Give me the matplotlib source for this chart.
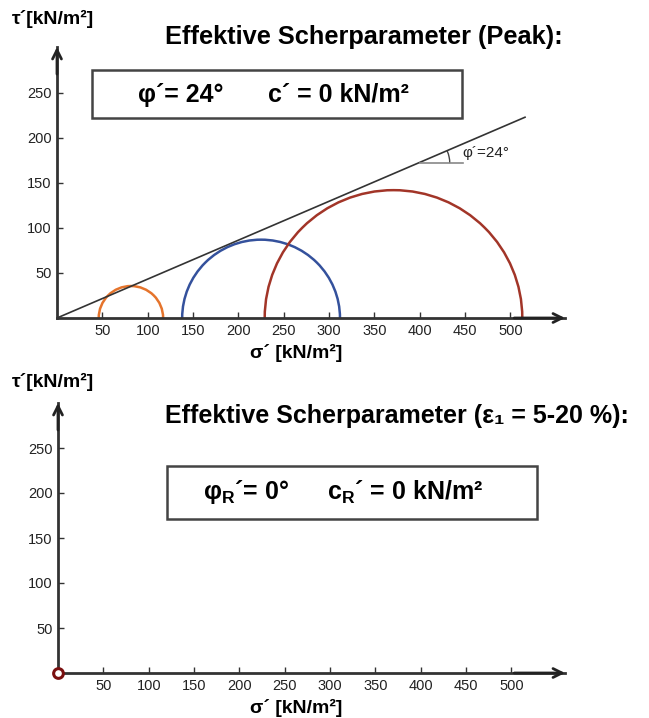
import numpy as np
import matplotlib
matplotlib.use("Agg")
import matplotlib.pyplot as plt
from matplotlib.patches import Arc, Rectangle

plt.rcParams['font.family'] = ['Liberation Sans', 'DejaVu Sans']
plt.rcParams['mathtext.fontset'] = 'custom'
plt.rcParams['mathtext.rm'] = 'Liberation Sans:bold'
plt.rcParams['mathtext.it'] = 'Liberation Sans:bold'
plt.rcParams['mathtext.bf'] = 'Liberation Sans:bold'

# ---- data ----
x_ticks = [50, 100, 150, 200, 250, 300, 350, 400, 450, 500]
y_ticks = [50, 100, 150, 200, 250]
circle_centers = [81.5, 225, 371]      # sigma' centre of Mohr circles (kN/m2)
circle_radii = [35.5, 87, 142]         # radius (kN/m2)
circle_colors = ['#E5742C', '#34519C', '#A23528']
envelope_sigma = [0, 516]
envelope_tau = [0, 223]
phi_peak = 24
angle_vertex = (400, 172)
residual_sigma = [0]
residual_tau = [0]

title_top = "Effektive Scherparameter (Peak):"
title_bot = "Effektive Scherparameter (ε₁ = 5-20 %):"

W, H = 649, 718
fig = plt.figure(figsize=(W / 100, H / 100), dpi=100)

def fx(px):
    return px / W

def fy(py):
    return 1 - py / H

axis_col = '#333333'


def make_axes(left, bottom_px, right_px, top_px, ymax):
    ax = fig.add_axes([fx(left), fy(bottom_px), fx(right_px) - fx(left), fy(top_px) - fy(bottom_px)])
    xmax = (right_px - left) / 0.907
    ax.set_xlim(0, xmax)
    ax.set_ylim(0, ymax)
    for s in ['top', 'right']:
        ax.spines[s].set_visible(False)
    for s in ['left', 'bottom']:
        ax.spines[s].set_linewidth(2.0)
        ax.spines[s].set_color(axis_col)
    ax.set_xticks(x_ticks)
    ax.set_yticks(y_ticks)
    ax.tick_params(direction='in', length=4, width=1.0, colors=axis_col,
                   labelsize=10.5, labelcolor='#222222', pad=4)
    ax.annotate('', xy=(1.0, 0), xytext=(0.9, 0), xycoords='axes fraction',
                arrowprops=dict(arrowstyle='->', lw=2.0, color='#222222',
                                mutation_scale=16, shrinkA=0, shrinkB=0),
                annotation_clip=False)
    ax.annotate('', xy=(0, 1.0), xytext=(0, 0.9), xycoords='axes fraction',
                arrowprops=dict(arrowstyle='->', lw=2.0, color='#222222',
                                mutation_scale=16, shrinkA=0, shrinkB=0),
                annotation_clip=False)
    ax.patch.set_alpha(0)
    return ax

# ---- top panel ----
ax1 = make_axes(57, 318, 565, 47, 301)
for c, r, col in zip(circle_centers, circle_radii, circle_colors):
    ax1.add_patch(Arc((c, 0), 2 * r, 2 * r, theta1=0, theta2=180, color=col, lw=1.8))
ax1.plot(envelope_sigma, envelope_tau, color='#333333', lw=1.2)
vx, vy = angle_vertex
ax1.plot([vx, vx + 48], [vy, vy], color='#888888', lw=1.2)
ax1.add_patch(Arc((vx, vy), 66, 67, theta1=0, theta2=phi_peak, color='#444444', lw=1.0))
ax1.text(vx + 47, vy + 11, f"φ´={phi_peak}°", fontsize=11, color='#222222', va='center')

# ---- bottom panel ----
ax2 = make_axes(58, 673, 565, 403, 300)
ax2.plot(residual_sigma, residual_tau, 'o', ms=7, mfc='white', mec='#7A1010', mew=2.2, clip_on=False, zorder=5)

# ---- texts ----
fig.text(fx(12), fy(19), "τ´[kN/m²]", fontsize=14, fontweight='bold', va='center', ha='left')
fig.text(fx(12), fy(382), "τ´[kN/m²]", fontsize=14, fontweight='bold', va='center', ha='left')
fig.text(fx(250), fy(353), "σ´ [kN/m²]", fontsize=14, fontweight='bold', va='center', ha='left')
fig.text(fx(250), fy(708), "σ´ [kN/m²]", fontsize=14, fontweight='bold', va='center', ha='left')

fig.text(fx(165), fy(37), title_top, fontsize=18.3, fontweight='bold', va='center', ha='left')
fig.text(fx(165), fy(416), title_bot, fontsize=18, fontweight='bold', va='center', ha='left')

# boxes
fig.patches.append(Rectangle((fx(92), fy(118)), fx(462) - fx(92), fy(70) - fy(118),
                             transform=fig.transFigure, fill=False, ec='#444444', lw=1.8))
fig.patches.append(Rectangle((fx(167), fy(519)), fx(537) - fx(167), fy(466) - fy(519),
                             transform=fig.transFigure, fill=False, ec='#444444', lw=1.8))

fig.text(fx(138), fy(95), f"φ´= {phi_peak}°", fontsize=18, fontweight='bold', va='center', ha='left')
fig.text(fx(268), fy(95), "c´ = 0 kN/m²", fontsize=18, fontweight='bold', va='center', ha='left')
fig.text(fx(203), fy(492), r"φ$_\mathrm{R}$´= 0°", fontsize=18, fontweight='bold', va='center', ha='left')
fig.text(fx(327), fy(492), r"c$_\mathrm{R}$´ = 0 kN/m²", fontsize=18, fontweight='bold', va='center', ha='left')

fig.savefig("out.png", dpi=100)
